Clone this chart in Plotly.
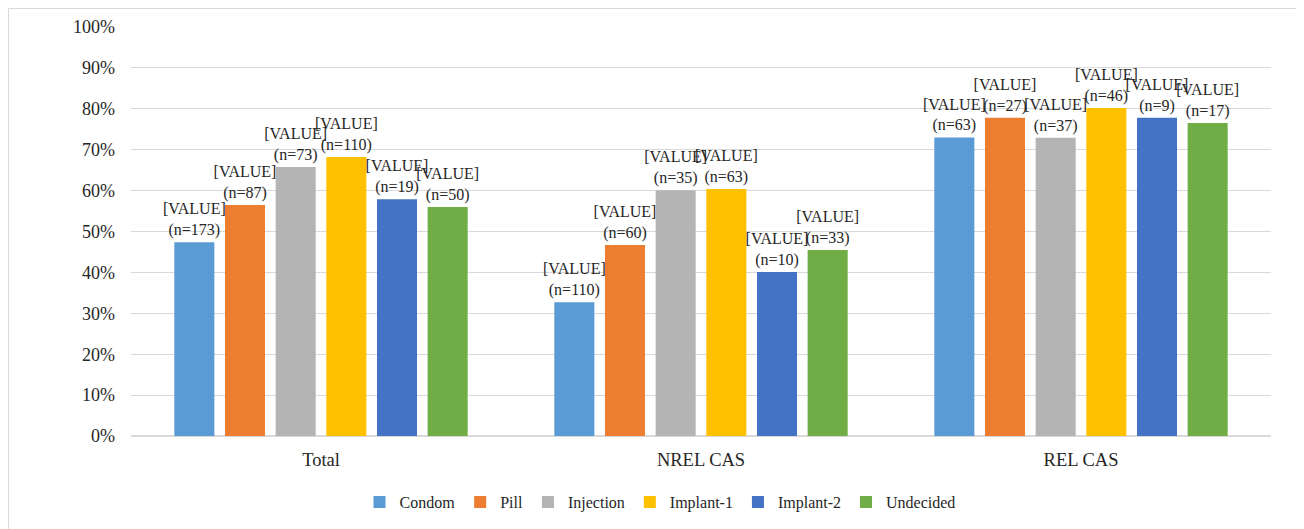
import plotly.graph_objects as go

categories = ["Total", "NREL CAS", "REL CAS"]
series_names = ["Condom", "Pill", "Injection", "Implant-1", "Implant-2", "Undecided"]
values = {
    "Condom":    [0.474, 0.327, 0.730],
    "Pill":      [0.565, 0.467, 0.778],
    "Injection": [0.658, 0.601, 0.729],
    "Implant-1": [0.682, 0.604, 0.802],
    "Implant-2": [0.579, 0.401, 0.778],
    "Undecided": [0.560, 0.455, 0.765],
}
counts = {
    "Condom":    [173, 110, 63],
    "Pill":      [87, 60, 27],
    "Injection": [73, 35, 37],
    "Implant-1": [110, 63, 46],
    "Implant-2": [19, 10, 9],
    "Undecided": [50, 33, 17],
}
colors = {
    "Condom": "#5B9BD5",
    "Pill": "#ED7D31",
    "Injection": "#B4B4B4",
    "Implant-1": "#FFC000",
    "Implant-2": "#4472C4",
    "Undecided": "#70AD47",
}
tick_vals = [i / 10 for i in range(11)]
tick_text = [f"{i * 10}%" for i in range(11)]

FONT = "'Liberation Serif', 'Times New Roman', serif"
TXT = "#262626"

# page body has an 8px margin; compensate so plot area lands at x 131..1271, y 27..436
L, T = 123, 19
PW, PH = 1140, 409
W, H = 1304, 529

fig = go.Figure()
for name in series_names:
    fig.add_trace(go.Bar(
        name=name,
        x=categories,
        y=values[name],
        marker=dict(color=colors[name], line=dict(width=0)),
        text=[f"[VALUE]<br>(n={n})" for n in counts[name]],
        textposition="outside",
        constraintext="none",
        cliponaxis=False,
        textfont=dict(family=FONT, size=16, color=TXT),
        hoverinfo="skip",
    ))

fig.update_layout(
    width=W,
    height=H,
    barmode="group",
    bargap=0.2,
    bargroupgap=0.21,
    paper_bgcolor="white",
    plot_bgcolor="white",
    margin=dict(l=L, r=W - L - PW, t=T, b=H - T - PH, autoexpand=False),
    font=dict(family=FONT, size=16, color=TXT),
    showlegend=True,
    legend=dict(
        orientation="h",
        xref="container",
        x=0.5, xanchor="center",
        yref="container",
        y=1 - (502 - 8) / H, yanchor="middle",
        font=dict(family=FONT, size=16, color=TXT),
        itemwidth=30,
        tracegroupgap=0,
    ),
    xaxis=dict(
        showgrid=False,
        showline=False,
        ticks="",
        ticklabelstandoff=10,
        tickfont=dict(family=FONT, size=18.5, color=TXT),
    ),
    yaxis=dict(
        range=[0, 1],
        tickvals=tick_vals,
        ticktext=tick_text,
        showgrid=True,
        gridcolor="#D9D9D9",
        gridwidth=1,
        zeroline=True,
        zerolinecolor="#D9D9D9",
        showline=False,
        ticks="",
        ticklabelstandoff=15,
        tickfont=dict(family=FONT, size=18, color=TXT),
    ),
    shapes=[dict(
        type="rect", xref="paper", yref="paper",
        x0=(0.5 - L) / PW, x1=(1293 - L) / PW,
        y0=(T + PH - H - 5) / PH, y1=(T + PH - 0.5) / PH,
        line=dict(color="#D9D9D9", width=1),
        fillcolor="rgba(0,0,0,0)",
        layer="below",
    )],
)

fig.write_html("out.html")
